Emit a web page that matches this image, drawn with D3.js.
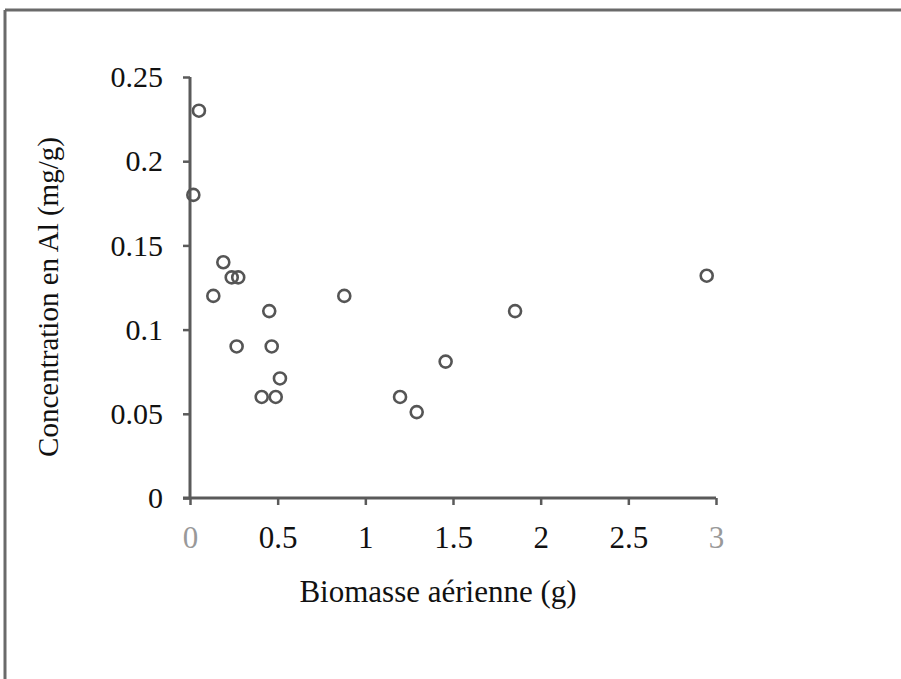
<!DOCTYPE html>
<html><head><meta charset="utf-8">
<script src="https://cdn.jsdelivr.net/npm/d3@7"></script>
<style>html,body{margin:0;padding:0;background:#fff;}svg{display:block;}</style>
</head><body>
<script>
const xValues = [0.051, 0.019, 0.19, 0.133, 0.238, 0.275, 0.266, 0.452, 0.466, 0.513, 0.409, 0.489, 0.88, 1.198, 1.293, 1.458, 1.854, 2.947];
const yValues = [0.23, 0.18, 0.14, 0.12, 0.131, 0.131, 0.09, 0.111, 0.09, 0.071, 0.06, 0.06, 0.12, 0.06, 0.051, 0.081, 0.111, 0.132];
const xTicks = [0, 0.5, 1, 1.5, 2, 2.5, 3];
const yTicks = [0, 0.05, 0.1, 0.15, 0.2, 0.25];
const xTitle = "Biomasse aérienne (g)";
const yTitle = "Concentration en Al (mg/g)";

const W = 901, H = 679;
const svg = d3.select("body").append("svg").attr("width", W).attr("height", H);
const font = "'Liberation Serif', 'Times New Roman', serif";
const axisColor = "#5a5a5a";

// frame (top and left edges)
svg.append("line").attr("x1", 5).attr("x2", W).attr("y1", 10).attr("y2", 10)
  .attr("stroke", "#6a6a6a").attr("stroke-width", 3);
svg.append("line").attr("x1", 5).attr("x2", 5).attr("y1", 10).attr("y2", H)
  .attr("stroke", "#6a6a6a").attr("stroke-width", 3);

const x = d3.scaleLinear().domain([0, 3]).range([190, 716]);
const y = d3.scaleLinear().domain([0, 0.25]).range([498, 77]);

const xAxis = svg.append("g").attr("transform", `translate(0,${y(0)})`)
  .call(d3.axisBottom(x).tickValues(xTicks).tickSize(7).tickSizeOuter(0).tickPadding(21)
    .tickFormat(d => String(d)));
const yAxis = svg.append("g").attr("transform", `translate(${x(0)},0)`)
  .call(d3.axisLeft(y).tickValues(yTicks).tickSize(7).tickSizeOuter(0).tickPadding(20)
    .tickFormat(d => String(d)));

[xAxis, yAxis].forEach(g => {
  g.select(".domain").attr("stroke", axisColor).attr("stroke-width", 3);
  g.selectAll(".tick line").attr("stroke", axisColor).attr("stroke-width", 2.5);
  g.selectAll(".tick text").attr("fill", "#111").style("font-family", font);
});
xAxis.selectAll(".tick text").style("font-size", "31px");
yAxis.selectAll(".tick text").style("font-size", "30px");
// extend x-axis line a bit left to meet y tick
xAxis.select(".domain").attr("d", `M${x(0) - 7},0H${x(3)}`);
yAxis.select(".domain").attr("d", `M0,${y(0.25)}V${y(0)}`);
xAxis.selectAll(".tick text").attr("fill", d => (d === 0 || d === 3) ? "#999" : "#111");

svg.append("text").attr("x", 438).attr("y", 602).attr("text-anchor", "middle")
  .style("font-family", font).style("font-size", "31px").attr("fill", "#111").text(xTitle);
svg.append("text").attr("transform", `translate(58,297) rotate(-90)`).attr("text-anchor", "middle")
  .style("font-family", font).style("font-size", "29px").attr("fill", "#111").text(yTitle);

svg.append("g").selectAll("circle").data(xValues.map((v, i) => [v, yValues[i]])).join("circle")
  .attr("cx", d => x(d[0])).attr("cy", d => y(d[1])).attr("r", 6)
  .attr("fill", "none").attr("stroke", "#555").attr("stroke-width", 2.6);
</script>
</body></html>
